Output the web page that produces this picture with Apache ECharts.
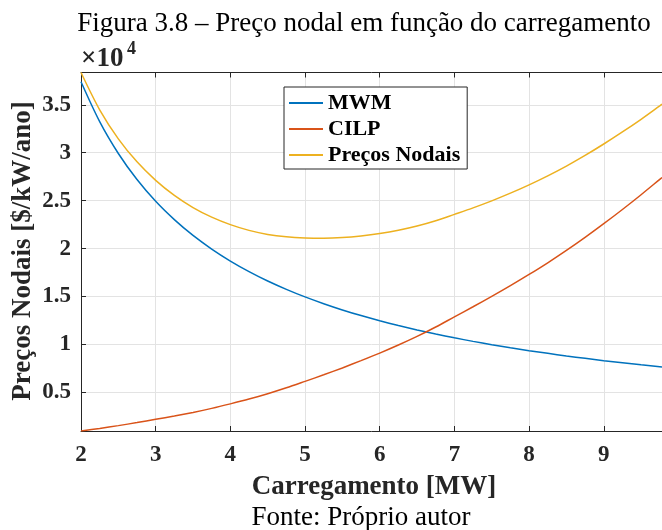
<!DOCTYPE html>
<html>
<head>
<meta charset="utf-8">
<script src="https://cdn.jsdelivr.net/npm/echarts@6/dist/echarts.min.js"></script>
<style>
    html, body { margin: 0; padding: 0; background: #fff; }
    #main { width: 662px; height: 530px; }
</style>
</head>
<body>
<div id="main"></div>
<script>
    // carregamento [MW]
    var carregamento = [2, 2.25, 2.5, 2.75, 3, 3.25, 3.5, 3.75, 4, 4.25, 4.5, 4.75, 5, 5.25, 5.5, 5.75, 6,
        6.25, 6.5, 6.75, 7, 7.25, 7.5, 7.75, 8, 8.25, 8.5, 8.75, 9, 9.25, 9.5, 9.75, 9.78];
    // precos [$/kW/ano]
    var mwm = [37400, 33240, 29920, 27200, 24930, 23020, 21370, 19950, 18700, 17600, 16620, 15750, 14960,
        14250, 13600, 13010, 12470, 11970, 11510, 11080, 10690, 10320, 9970, 9650, 9350, 9070, 8800, 8550,
        8310, 8090, 7870, 7670, 7650];
    var cilp = [970, 1240, 1530, 1850, 2190, 2530, 2910, 3330, 3800, 4300, 4860, 5480, 6150,
        6830, 7550, 8310, 9100, 9940, 10840, 11820, 12880, 13930, 15010, 16130, 17300, 18520, 19810, 21170,
        22600, 24080, 25620, 27220, 27410];
    var precosNodais = [38370, 34480, 31450, 29050, 27120, 25550, 24280, 23280, 22500, 21900, 21480, 21230, 21110,
        21080, 21150, 21320, 21570, 21910, 22350, 22900, 23570, 24250, 24980, 25780, 26650, 27590, 28610, 29720,
        30910, 32170, 33490, 34890, 35060];
    var nomes = ['MWM', 'CILP', 'Preços Nodais'];
    var cores = ['#0072BD', '#D95319', '#EDB120'];

    var serif = '"Liberation Serif", "Times New Roman", serif';
    var escuro = '#262626';

    function pares(ys) {
        var out = [];
        for (var i = 0; i < carregamento.length; i++) {
            out.push([carregamento[i], ys[i]]);
        }
        return out;
    }

    function serie(nome, ys, cor) {
        return {
            name: nome,
            type: 'line',
            data: pares(ys),
            smooth: 0.3,
            symbol: 'none',
            lineStyle: { color: cor, width: 1.5 },
            itemStyle: { color: cor },
            clip: true
        };
    }

    var chart = echarts.init(document.getElementById('main'));
    chart.setOption({
        backgroundColor: '#fff',
        animation: false,
        grid: { left: 81, top: 72.5, right: 0, bottom: 99 },
        legend: {
            data: nomes,
            orient: 'vertical',
            left: 284,
            top: 87,
            padding: [5, 7, 3, 5],
            icon: 'rect',
            itemWidth: 34,
            itemHeight: 2,
            itemGap: 4,
            borderColor: escuro,
            borderWidth: 1,
            backgroundColor: '#fff',
            textStyle: { fontFamily: serif, fontWeight: 'bold', fontSize: 22, color: '#000' }
        },
        xAxis: [{
            type: 'value',
            min: 2,
            max: 9.78,
            interval: 1,
            axisLine: { show: true, lineStyle: { color: escuro, width: 1 } },
            axisTick: { show: true, inside: true, length: 5, lineStyle: { color: escuro } },
            axisLabel: { showMaxLabel: false, margin: 13, fontFamily: serif, fontWeight: 'bold', fontSize: 23, color: escuro },
            splitLine: { show: true, lineStyle: { color: '#e3e3e3', width: 1 } }
        }, {
            type: 'value',
            position: 'top',
            min: 2,
            max: 9.78,
            interval: 1,
            axisLine: { show: true, onZero: false, lineStyle: { color: escuro, width: 1 } },
            axisTick: { show: true, inside: true, length: 5, lineStyle: { color: escuro } },
            axisLabel: { show: false },
            splitLine: { show: false }
        }],
        yAxis: {
            type: 'value',
            min: 970,
            max: 38370,
            splitNumber: 8,
            axisLine: { show: true, lineStyle: { color: escuro, width: 1 } },
            axisTick: { show: true, inside: true, length: 5, lineStyle: { color: escuro } },
            axisLabel: {
                showMinLabel: false,
                showMaxLabel: false,
                margin: 10,
                fontFamily: serif, fontWeight: 'bold', fontSize: 23, color: escuro,
                formatter: function (v) { return String(v / 10000); }
            },
            splitLine: { show: true, lineStyle: { color: '#e3e3e3', width: 1 } }
        },
        series: [
            serie(nomes[0], mwm, cores[0]),
            serie(nomes[1], cilp, cores[1]),
            serie(nomes[2], precosNodais, cores[2])
        ],
        graphic: [
            {
                type: 'text', x: 364, y: 24,
                style: { text: 'Figura 3.8 – Preço nodal em função do carregamento', font: '27px ' + serif, fill: '#000', textAlign: 'center', textVerticalAlign: 'middle' }
            },
            {
                type: 'text', x: 81, y: 59,
                style: { text: '×10', font: 'bold 27px ' + serif, fill: escuro, textVerticalAlign: 'middle' }
            },
            {
                type: 'text', x: 127, y: 49,
                style: { text: '4', font: 'bold 18px ' + serif, fill: escuro, textVerticalAlign: 'middle' }
            },
            {
                type: 'text', x: 23, y: 251, rotation: Math.PI / 2,
                style: { text: 'Preços Nodais [$/kW/ano]', font: 'bold 27px ' + serif, fill: escuro, textAlign: 'center', textVerticalAlign: 'middle' }
            },
            {
                type: 'text', x: 374, y: 487,
                style: { text: 'Carregamento [MW]', font: 'bold 27px ' + serif, fill: escuro, textAlign: 'center', textVerticalAlign: 'middle' }
            },
            {
                type: 'text', x: 361, y: 518,
                style: { text: 'Fonte: Próprio autor', font: '27px ' + serif, fill: '#000', textAlign: 'center', textVerticalAlign: 'middle' }
            }
        ]
    });
</script>
</body>
</html>
